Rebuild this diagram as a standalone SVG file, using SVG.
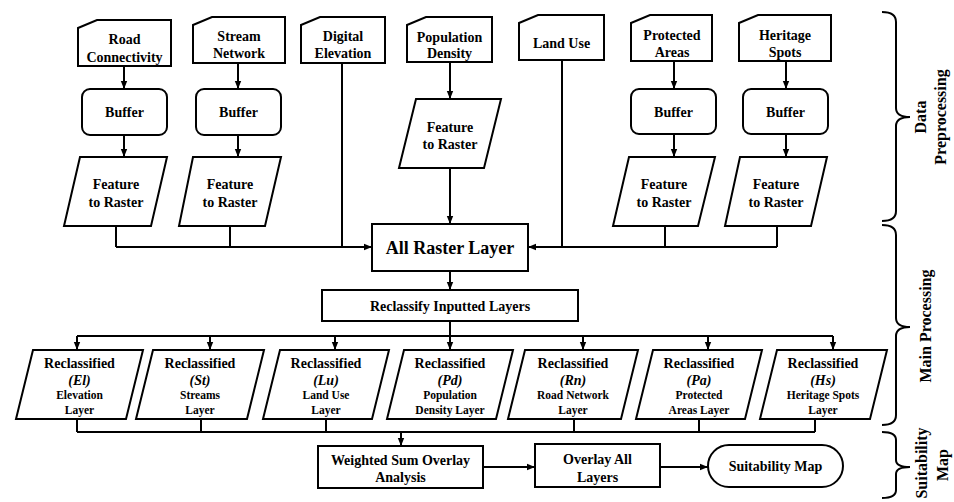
<svg xmlns="http://www.w3.org/2000/svg" width="954" height="502" viewBox="0 0 954 502" font-family="'Liberation Serif', 'Times New Roman', serif">
<defs>
<marker id="ah" markerUnits="userSpaceOnUse" markerWidth="8" markerHeight="8" viewBox="0 0 8 8" refX="8" refY="4" orient="auto">
<path d="M0,0.8 L8,4 L0,7.2 Z" fill="#000"/>
</marker>
<style>
.b{fill:#fff;stroke:#000;stroke-width:2}
.ln{fill:none;stroke:#000;stroke-width:2}
.ar{fill:none;stroke:#000;stroke-width:2;marker-end:url(#ah)}
text{font-family:'Liberation Serif','Times New Roman',serif;font-weight:bold;font-size:14px;text-anchor:middle;dominant-baseline:central;fill:#000}
.s{font-size:11.5px}
.i{font-style:italic}
.L{font-size:18px}
.side{font-size:16px}
</style>
</defs>
<rect width="954" height="502" fill="#fff"/>

<g id="connectors">
<path class="ar" d="M124,66 V89"/>
<path class="ar" d="M124,135 V157"/>
<path class="ar" d="M238,63 V89"/>
<path class="ar" d="M238,135 V157"/>
<path class="ar" d="M674,61 V89"/>
<path class="ar" d="M674,134 V157"/>
<path class="ar" d="M786,61 V89"/>
<path class="ar" d="M786,134 V157"/>
<path class="ar" d="M450,62 V99"/>
<path class="ar" d="M450,168 V224"/>
<path class="ln" d="M116,226 V247 M230,226 V247 M342,63 V247"/>
<path class="ar" d="M116,247 H372"/>
<path class="ln" d="M562,60 V247 M665,226 V247 M777,226 V247"/>
<path class="ar" d="M777,247 H528"/>
<path class="ar" d="M450,271 V290"/>
<path class="ln" d="M450,321 V336 M77,336 H833"/>
<path class="ar" d="M77,336 V350"/>
<path class="ar" d="M210,336 V350"/>
<path class="ar" d="M335,336 V350"/>
<path class="ar" d="M450,336 V350"/>
<path class="ar" d="M583,336 V350"/>
<path class="ar" d="M708,336 V350"/>
<path class="ar" d="M833,336 V350"/>
<path class="ln" d="M77,419 V432 M201,419 V432 M326,419 V432 M574,419 V432 M699,419 V432 M815,419 V432 M77,432 H815"/>
<path class="ar" d="M401,432 V446"/>
<path class="ar" d="M483,467 H535"/>
<path class="ar" d="M660,467 H708"/>
</g>

<g id="road-connectivity"><path class="b" d="M78,28 L97,20 H171 V66 H78 Z"/><text x="124.5" y="39">Road</text><text x="124.5" y="57">Connectivity</text></g>
<g id="stream-network"><path class="b" d="M193,25 L212,17 H285 V63 H193 Z"/><text x="239" y="36">Stream</text><text x="239" y="53">Network</text></g>
<g id="digital-elevation"><path class="b" d="M301,25 L320,17 H385 V63 H301 Z"/><text x="343" y="36">Digital</text><text x="343" y="53">Elevation</text></g>
<g id="population-density"><path class="b" d="M407,25 L426,17 H492 V62 H407 Z"/><text x="449.5" y="37">Population</text><text x="449.5" y="53">Density</text></g>
<g id="land-use"><path class="b" d="M519,23 L538,15 H604 V60 H519 Z"/><text x="561.5" y="43">Land Use</text></g>
<g id="protected-areas"><path class="b" d="M631,23 L650,15 H712 V61 H631 Z"/><text x="672" y="35">Protected</text><text x="672" y="52">Areas</text></g>
<g id="heritage-spots"><path class="b" d="M739,23 L758,15 H831 V61 H739 Z"/><text x="785" y="35">Heritage</text><text x="785" y="52">Spots</text></g>

<g id="buffer-road"><rect class="b" x="82" y="89" width="85" height="46" rx="8"/><text x="124.5" y="112">Buffer</text></g>
<g id="buffer-stream"><rect class="b" x="196" y="89" width="85" height="46" rx="8"/><text x="238.5" y="112">Buffer</text></g>
<g id="buffer-protected"><rect class="b" x="631" y="89" width="85" height="45" rx="8"/><text x="673.5" y="112">Buffer</text></g>
<g id="buffer-heritage"><rect class="b" x="743" y="89" width="85" height="45" rx="8"/><text x="785.5" y="112">Buffer</text></g>

<g id="f2r-road"><path class="b" d="M80,157 H167 L151,226 H64 Z"/><text x="116" y="184">Feature</text><text x="116" y="202">to Raster</text></g>
<g id="f2r-stream"><path class="b" d="M193,157 H281 L265,226 H179 Z"/><text x="230" y="184">Feature</text><text x="230" y="202">to Raster</text></g>
<g id="f2r-population"><path class="b" d="M416,99 H501 L484,168 H399 Z"/><text x="450" y="127">Feature</text><text x="450" y="144">to Raster</text></g>
<g id="f2r-protected"><path class="b" d="M629,157 H715 L698,226 H613 Z"/><text x="664" y="184">Feature</text><text x="664" y="202">to Raster</text></g>
<g id="f2r-heritage"><path class="b" d="M740,157 H827 L811,226 H725 Z"/><text x="776" y="184">Feature</text><text x="776" y="202">to Raster</text></g>

<g id="all-raster-layer"><rect class="b" x="372" y="224" width="156" height="47"/><text class="L" x="450" y="248">All Raster Layer</text></g>
<g id="reclassify"><rect class="b" x="322" y="290" width="256" height="31"/><text x="450" y="306">Reclassify Inputted Layers</text></g>

<g id="rc-el"><path class="b" d="M33,350 H143 L126,419 H16 Z"/><text x="79.5" y="363">Reclassified</text><text class="i" x="79.5" y="380">(El)</text><text class="s" x="79.5" y="395">Elevation</text><text class="s" x="79.5" y="410">Layer</text></g>
<g id="rc-st"><path class="b" d="M153,350 H264 L247,419 H136 Z"/><text x="200" y="363">Reclassified</text><text class="i" x="200" y="380">(St)</text><text class="s" x="200" y="395">Streams</text><text class="s" x="200" y="410">Layer</text></g>
<g id="rc-lu"><path class="b" d="M280,350 H389 L372,419 H263 Z"/><text x="326" y="363">Reclassified</text><text class="i" x="326" y="380">(Lu)</text><text class="s" x="326" y="395">Land Use</text><text class="s" x="326" y="410">Layer</text></g>
<g id="rc-pd"><path class="b" d="M404,350 H513 L496,419 H387 Z"/><text x="450" y="363">Reclassified</text><text class="i" x="450" y="380">(Pd)</text><text class="s" x="450" y="395">Population</text><text class="s" x="450" y="410">Density Layer</text></g>
<g id="rc-rn"><path class="b" d="M525,350 H638 L621,419 H508 Z"/><text x="573" y="363">Reclassified</text><text class="i" x="573" y="380">(Rn)</text><text class="s" x="573" y="395">Road Network</text><text class="s" x="573" y="410">Layer</text></g>
<g id="rc-pa"><path class="b" d="M653,350 H762 L745,419 H636 Z"/><text x="699" y="363">Reclassified</text><text class="i" x="699" y="380">(Pa)</text><text class="s" x="699" y="395">Protected</text><text class="s" x="699" y="410">Areas Layer</text></g>
<g id="rc-hs"><path class="b" d="M777,350 H887 L870,419 H760 Z"/><text x="823" y="363">Reclassified</text><text class="i" x="823" y="380">(Hs)</text><text class="s" x="823" y="395">Heritage Spots</text><text class="s" x="823" y="410">Layer</text></g>

<g id="weighted-sum"><rect class="b" x="318" y="446" width="165" height="42"/><text x="400.5" y="460">Weighted Sum Overlay</text><text x="400.5" y="477">Analysis</text></g>
<g id="overlay-all"><rect class="b" x="535" y="444" width="125" height="43"/><text x="597.5" y="459">Overlay All</text><text x="597.5" y="477">Layers</text></g>
<g id="suitability-map"><rect class="b" x="708" y="445" width="135" height="42" rx="21"/><text x="775.5" y="466">Suitability Map</text></g>

<g id="braces">
<path class="ln" d="M882,12 Q896,12 896,22 V108 Q896,117 910,117 Q896,117 896,126 V211 Q896,221 882,221"/>
<path class="ln" d="M882,225 Q896,225 896,235 V318 Q896,327 910,327 Q896,327 896,336 V415 Q896,425 882,425"/>
<path class="ln" d="M882,432 Q896,432 896,440 V460 Q896,467 910,467 Q896,467 896,474 V490 Q896,498 882,498"/>
<text class="side" transform="translate(920,117) rotate(-90)">Data</text>
<text class="side" transform="translate(940,117) rotate(-90)">Preprocessing</text>
<text class="side" transform="translate(925,326) rotate(-90)">Main Processing</text>
<text class="side" transform="translate(921,463) rotate(-90)">Suitability</text>
<text class="side" transform="translate(942,465) rotate(-90)">Map</text>
</g>
</svg>
